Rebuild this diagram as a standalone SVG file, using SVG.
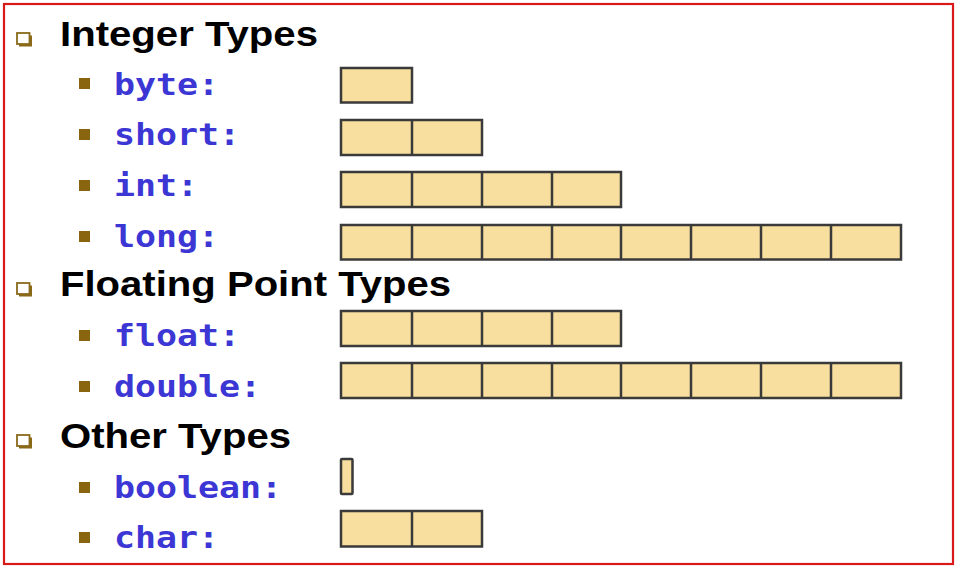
<svg xmlns="http://www.w3.org/2000/svg" width="959" height="570" viewBox="0 0 959 570">
  <style>
    .head { font-family: "Liberation Sans", Arial, sans-serif; font-weight: bold; font-size: 35px; fill: #000; }
    .type { font-family: "DejaVu Sans Mono", "Liberation Mono", monospace; font-weight: bold; font-size: 29.5px; fill: #3b36d4; }
    .cell { fill: #f9df9f; stroke: #3a3a3a; stroke-width: 2.5; }
    .div { stroke: #3a3a3a; stroke-width: 2.5; }
    .sq { fill: #8a6510; }
  </style>
  <defs>
    <!-- hollow heading bullet with offset shadow -->
    <g id="hb">
      <rect x="2" y="2.5" width="13" height="11" fill="#8a6a1a"/>
      <rect x="0" y="0" width="12.5" height="11" fill="#fff" stroke="#8a6a1a" stroke-width="1.8"/>
    </g>
    <rect id="sb" class="sq" width="11" height="11"/>
  </defs>
  <rect x="4" y="4" width="949" height="560" fill="#fff" stroke="#d91a1a" stroke-width="2.2"/>

  <g id="integer-types">
    <use href="#hb" x="17" y="33"/>
    <text class="head" x="60" y="46" textLength="258" lengthAdjust="spacingAndGlyphs">Integer Types</text>
  </g>
  <g id="byte">
    <use href="#sb" x="79" y="78"/>
    <text class="type" x="114" y="95" textLength="105" lengthAdjust="spacingAndGlyphs">byte:</text>
    <rect class="cell" x="341" y="68" width="71" height="34.5"/>
  </g>
  <g id="short">
    <use href="#sb" x="79" y="129"/>
    <text class="type" x="114" y="145" textLength="126" lengthAdjust="spacingAndGlyphs">short:</text>
    <rect class="cell" x="341" y="120" width="141" height="35"/>
    <path class="div" d="M412 120V155"/>
  </g>
  <g id="int">
    <use href="#sb" x="79" y="180"/>
    <text class="type" x="114" y="196" textLength="84" lengthAdjust="spacingAndGlyphs">int:</text>
    <rect class="cell" x="341" y="172" width="280" height="35"/>
    <path class="div" d="M412 172V207M482 172V207M552 172V207"/>
  </g>
  <g id="long">
    <use href="#sb" x="79" y="231"/>
    <text class="type" x="114" y="247" textLength="105" lengthAdjust="spacingAndGlyphs">long:</text>
    <rect class="cell" x="341" y="225" width="560" height="34.5"/>
    <path class="div" d="M412 225V259.5M482 225V259.5M552 225V259.5M621 225V259.5M691 225V259.5M761 225V259.5M831 225V259.5"/>
  </g>

  <g id="floating-point-types">
    <use href="#hb" x="17" y="283"/>
    <text class="head" x="60" y="296" textLength="391" lengthAdjust="spacingAndGlyphs">Floating Point Types</text>
  </g>
  <g id="float">
    <use href="#sb" x="79" y="330"/>
    <text class="type" x="114" y="346" textLength="126" lengthAdjust="spacingAndGlyphs">float:</text>
    <rect class="cell" x="341" y="311" width="280" height="35"/>
    <path class="div" d="M412 311V346M482 311V346M552 311V346"/>
  </g>
  <g id="double">
    <use href="#sb" x="79" y="381"/>
    <text class="type" x="114" y="397" textLength="147" lengthAdjust="spacingAndGlyphs">double:</text>
    <rect class="cell" x="341" y="363" width="560" height="35"/>
    <path class="div" d="M412 363V398M482 363V398M552 363V398M621 363V398M691 363V398M761 363V398M831 363V398"/>
  </g>

  <g id="other-types">
    <use href="#hb" x="17" y="435"/>
    <text class="head" x="60" y="448" textLength="231" lengthAdjust="spacingAndGlyphs">Other Types</text>
  </g>
  <g id="boolean">
    <use href="#sb" x="79" y="482"/>
    <text class="type" x="114" y="498" textLength="168" lengthAdjust="spacingAndGlyphs">boolean:</text>
    <rect class="cell" x="341" y="459" width="11.5" height="35" rx="1"/>
  </g>
  <g id="char">
    <use href="#sb" x="79" y="532"/>
    <text class="type" x="114" y="548" textLength="105" lengthAdjust="spacingAndGlyphs">char:</text>
    <rect class="cell" x="341" y="511" width="141" height="35.5"/>
    <path class="div" d="M412 511V546.5"/>
  </g>

  <g id="connectors"/>
</svg>
